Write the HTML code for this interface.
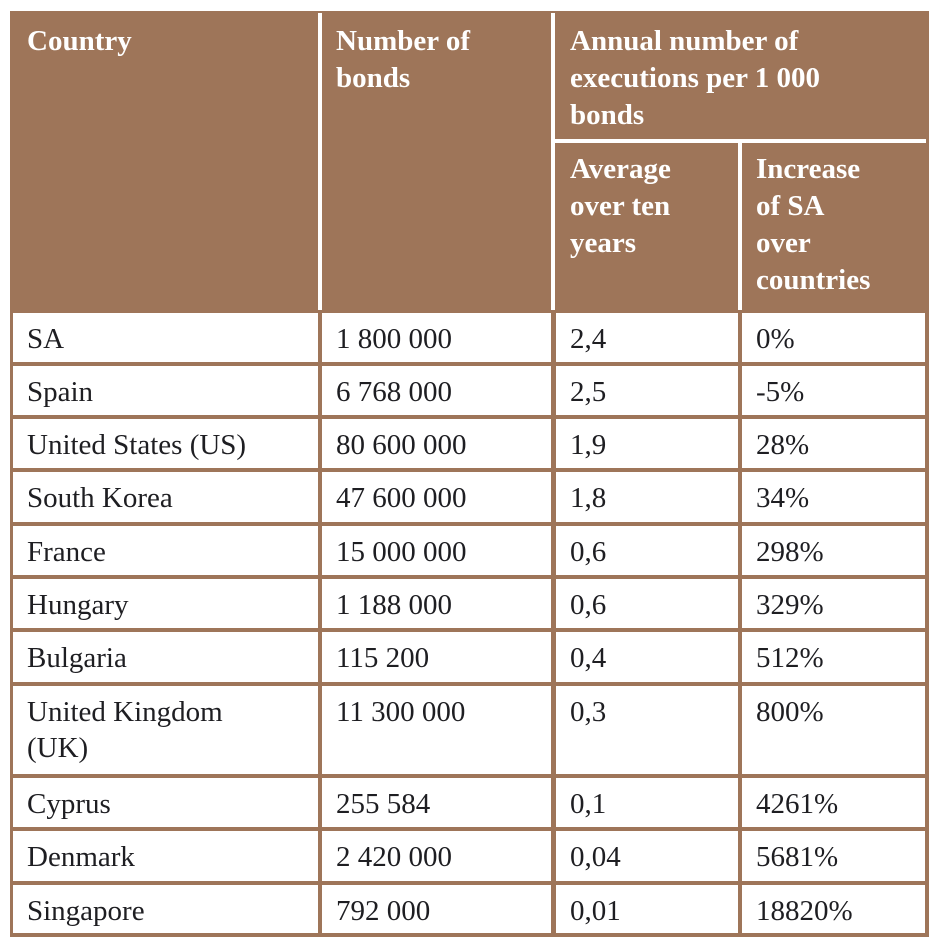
<!DOCTYPE html>
<html><head><meta charset="utf-8"><style>
body{margin:0;background:#fff;width:940px;height:946px;position:relative;overflow:hidden;font-family:"Liberation Serif",serif}
.t{position:absolute;left:10px;top:11px;width:919px;height:926px;background:#9e7559}
.c{position:absolute;background:#fff;color:#1e1e22;font-size:29px;line-height:36px;box-sizing:border-box;padding:8px 0 0 14px;white-space:nowrap}
.h{position:absolute;color:#fff;font-weight:bold;font-size:29px;line-height:37px;white-space:nowrap}
.w{position:absolute;background:#fff}
</style></head><body>
<div class="t"></div>
<div class="w" style="left:318px;top:13px;width:4px;height:297px"></div>
<div class="w" style="left:551px;top:13px;width:4px;height:297px"></div>
<div class="w" style="left:555px;top:139px;width:371px;height:4px"></div>
<div class="w" style="left:738px;top:143px;width:4px;height:167px"></div>
<div class="h" style="left:27px;top:23px">Country</div>
<div class="h" style="left:336px;top:23px">Number of<br>bonds</div>
<div class="h" style="left:570px;top:23px">Annual number of<br>executions per 1 000<br>bonds</div>
<div class="h" style="left:570px;top:151px">Average<br>over ten<br>years</div>
<div class="h" style="left:756px;top:151px">Increase<br>of SA<br>over<br>countries</div>
<div id="body"></div>
<script>
const countries=["SA","Spain","United States (US)","South Korea","France","Hungary","Bulgaria","United Kingdom<br>(UK)","Cyprus","Denmark","Singapore"];
const bonds=["1 800 000","6 768 000","80 600 000","47 600 000","15 000 000","1 188 000","115 200","11 300 000","255 584","2 420 000","792 000"];
const avg=["2,4","2,5","1,9","1,8","0,6","0,6","0,4","0,3","0,1","0,04","0,01"];
const inc=["0%","-5%","28%","34%","298%","329%","512%","800%","4261%","5681%","18820%"];
const tops=[313,366,419,472,526,579,632,686,778,831,885,937];
const cols=[[13,318],[322,551],[556,738],[742,925]];
const b=document.getElementById('body');
countries.forEach((c,i)=>{
  const vals=[c,bonds[i],avg[i],inc[i]];
  const names=['country-cell','bonds-cell','average-cell','increase-cell'];
  vals.forEach((v,j)=>{
    const d=document.createElement('div');
    d.className='c';
    
    
    d.style.left=cols[j][0]+'px';
    d.style.width=(cols[j][1]-cols[j][0])+'px';
    d.style.top=tops[i]+'px';
    d.style.height=(tops[i+1]-4-tops[i])+'px';
    d.innerHTML=v;
    b.appendChild(d);
  });
});
</script>
</body></html>
